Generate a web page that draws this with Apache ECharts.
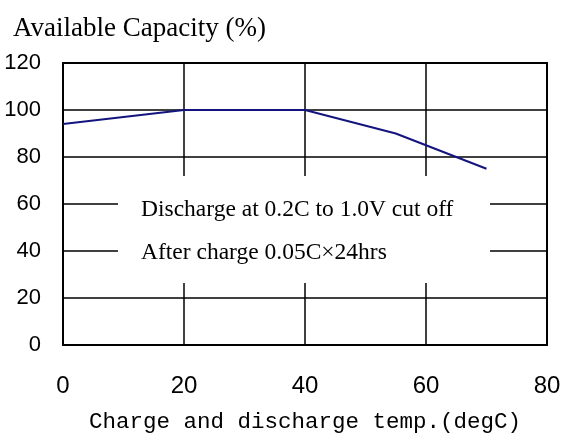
<!DOCTYPE html>
<html>
<head>
<meta charset="utf-8">
<script src="https://cdn.jsdelivr.net/npm/echarts@6/dist/echarts.min.js"></script>
<style>
html, body { margin: 0; padding: 0; background: #fff; }
#main { width: 577px; height: 441px; }
</style>
</head>
<body>
<div id="main"></div>
<script>
// 数据
var temps = [0, 20, 40, 55, 70];
var capacity = [94, 100, 100, 90, 75];
var xTicks = [0, 20, 40, 60, 80];
var yTicks = [0, 20, 40, 60, 80, 100, 120];
var noteLines = ['Discharge at 0.2C to 1.0V cut off', 'After charge 0.05C\u00d724hrs'];

var myChart = echarts.init(document.getElementById('main'));

var option = {
  animation: false,
  title: {
    text: 'Available Capacity (%)',
    left: 8,
    top: 10,
    textStyle: {
      fontFamily: 'Liberation Serif',
      fontWeight: 'normal',
      fontSize: 27,
      color: '#000'
    }
  },
  grid: {
    left: 63,
    right: 30,
    top: 63,
    bottom: 96,
    show: true,
    borderColor: '#000',
    borderWidth: 2,
    backgroundColor: 'transparent'
  },
  xAxis: {
    type: 'value',
    min: xTicks[0],
    max: xTicks[xTicks.length - 1],
    interval: 20,
    name: 'Charge and discharge temp.(degC)',
    nameLocation: 'middle',
    nameGap: 66,
    nameTextStyle: {
      fontFamily: 'Liberation Mono',
      fontSize: 22.5,
      color: '#000'
    },
    axisLine: { lineStyle: { color: '#000', width: 2 } }, //坐标轴线
    axisTick: { show: false },
    axisLabel: {
      margin: 29,
      fontFamily: 'Liberation Sans',
      fontSize: 24,
      color: '#000'
    },
    splitLine: { show: true, lineStyle: { color: '#000', width: 1.5 } }
  },
  yAxis: {
    type: 'value',
    min: yTicks[0],
    max: yTicks[yTicks.length - 1],
    interval: 20,
    axisLine: { show: true, lineStyle: { color: '#000', width: 2 } },
    axisTick: { show: false },
    axisLabel: {
      margin: 22,
      fontFamily: 'Liberation Sans',
      fontSize: 22,
      color: '#000',
      padding: [4, 0, 0, 0]
    },
    splitLine: { show: true, lineStyle: { color: '#000', width: 1.5 } }
  },
  graphic: [
    {
      type: 'rect',
      z: 100,
      shape: { x: 118, y: 176, width: 372, height: 107 },
      style: { fill: '#fff' }
    },
    {
      type: 'text',
      z: 101,
      x: 141,
      y: 210,
      style: {
        text: noteLines[0],
        fontFamily: 'Liberation Serif',
        fontSize: 23.5,
        fill: '#000',
        verticalAlign: 'middle'
      }
    },
    {
      type: 'text',
      z: 101,
      x: 141,
      y: 253,
      style: {
        text: noteLines[1],
        fontFamily: 'Liberation Serif',
        fontSize: 23.5,
        fill: '#000',
        verticalAlign: 'middle'
      }
    }
  ],
  series: [
    {
      type: 'line',
      data: temps.map(function (t, i) { return [t, capacity[i]]; }),
      showSymbol: false,
      lineStyle: { color: '#14147f', width: 2 },
      z: 10
    }
  ]
};
myChart.setOption(option);
</script>
</body>
</html>
